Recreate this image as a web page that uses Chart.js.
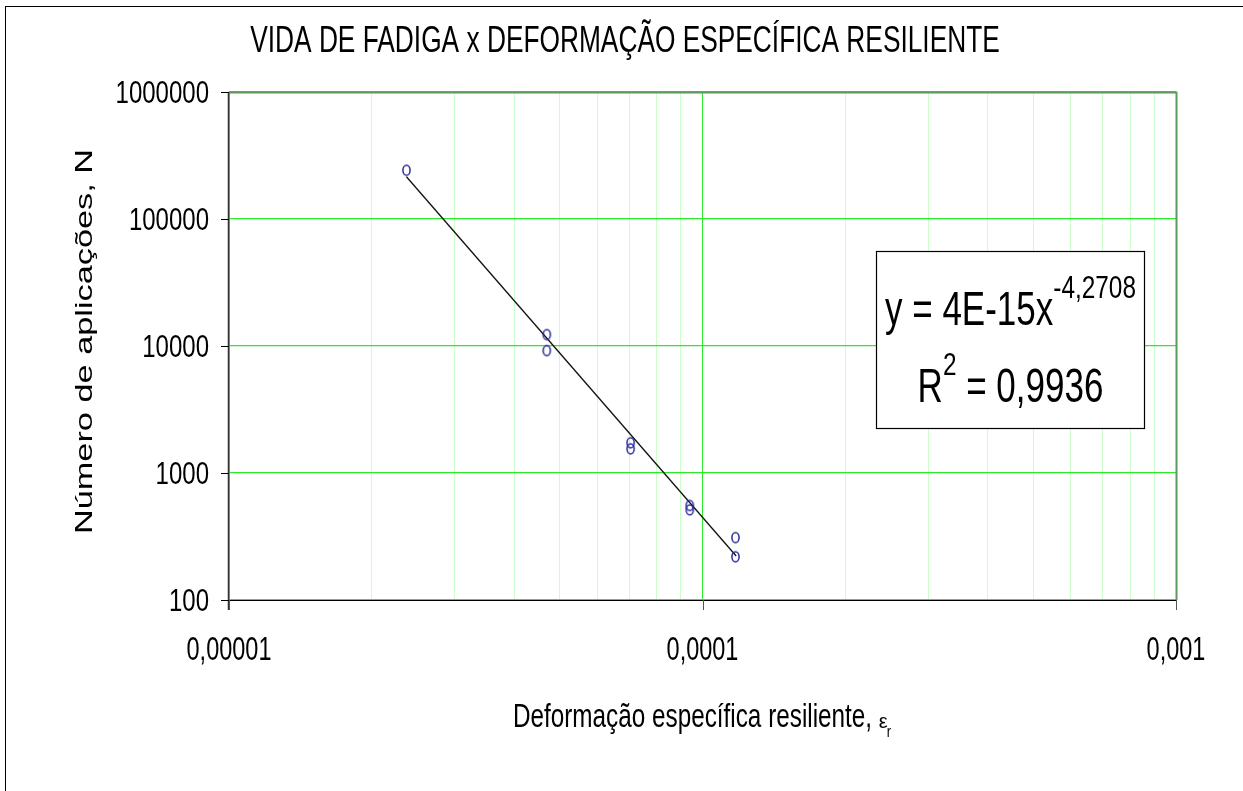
<!DOCTYPE html>
<html>
<head>
<meta charset="utf-8">
<script src="https://cdn.jsdelivr.net/npm/chart.js@4"></script>
<style>
  html, body { margin: 0; padding: 0; background: #ffffff; }
  canvas { display: block; }
</style>
</head>
<body>
<canvas id="c" width="1243" height="791"></canvas>
<script>
// ---- data ----
const strainX = [2.37e-5, 4.69e-5, 4.69e-5, 7.05e-5, 7.05e-5, 9.40e-5, 9.40e-5, 1.174e-4, 1.174e-4];
const cyclesN = [242000, 12300, 9200, 1730, 1550, 555, 513, 310, 219];
const trendX = [2.37e-5, 1.178e-4];
const trendY = [215000, 222];
const xGridValues = [1e-5, 2e-5, 3e-5, 4e-5, 5e-5, 6e-5, 7e-5, 8e-5, 9e-5,
                     1e-4, 2e-4, 3e-4, 4e-4, 5e-4, 6e-4, 7e-4, 8e-4, 9e-4, 1e-3];
const xLabelValues = [1e-5, 1e-4, 1e-3];
const xTickLabels = ['0,00001', '0,0001', '0,001'];
const yTickValues = [100, 1000, 10000, 100000, 1000000];
const yTickLabels = ['100', '1000', '10000', '100000', '1000000'];
const chartTitle = 'VIDA DE FADIGA x DEFORMAÇÃO ESPECÍFICA RESILIENTE';
const yTitle = 'Número de aplicações, N';
const xTitle = 'Deformação específica resiliente, ';
const eqCoef = '4E-15';
const eqExp = '-4,2708';
const r2Text = '0,9936';

const FONT = '"Liberation Sans", Arial, Helvetica, sans-serif';
const GREEN = '#2ee82e';
const LIGHT = '#ccffcc';

function isMajor(v) {
  if (!v) return false;
  const l = Math.log10(v);
  return Math.abs(l - Math.round(l)) < 1e-6;
}

// ellipse marker (the reference is stretched vertically)
const marker = document.createElement('canvas');
marker.width = 11; marker.height = 14;
(function () {
  const m = marker.getContext('2d');
  m.strokeStyle = '#28289a';
  m.lineWidth = 1.5;
  m.beginPath();
  m.ellipse(5.5, 7, 3.6, 5.0, 0, 0, Math.PI * 2);
  m.stroke();
})();

function sText(ctx, s, x, y, size, sy, align) {
  ctx.save();
  ctx.translate(x, y);
  ctx.scale(1, sy);
  ctx.font = size + 'px ' + FONT;
  ctx.textAlign = align || 'left';
  ctx.textBaseline = 'alphabetic';
  ctx.fillText(s, 0, 0);
  ctx.restore();
}
function widthOf(ctx, s, size) {
  ctx.save();
  ctx.font = size + 'px ' + FONT;
  const w = ctx.measureText(s).width;
  ctx.restore();
  return w;
}
function drawRuns(ctx, runs, cx, baseline) {
  const widths = runs.map(r => widthOf(ctx, r.t, r.size));
  const total = widths.reduce((a, b) => a + b, 0);
  let x = cx - total / 2;
  runs.forEach((r, i) => {
    sText(ctx, r.t, x, baseline + (r.dy || 0), r.size, r.sy, 'left');
    x += widths[i];
  });
}

const decor = {
  id: 'decor',
  afterDraw(chart) {
    const ctx = chart.ctx;
    const xs = chart.scales.x, ys = chart.scales.y;
    const a = chart.chartArea;
    ctx.save();
    ctx.fillStyle = '#000';

    // outer border (extends beyond the picture on right/bottom)
    ctx.strokeStyle = '#000';
    ctx.lineWidth = 1;
    ctx.strokeRect(5.5, 6.5, 1400, 1000);

    // plot frame top/right
    ctx.strokeStyle = '#5c995c';
    ctx.lineWidth = 2;
    ctx.beginPath();
    ctx.moveTo(a.left, a.top + 0.5);
    ctx.lineTo(a.right + 0.5, a.top + 0.5);
    ctx.lineTo(a.right + 0.5, a.bottom);
    ctx.stroke();

    // left axis
    ctx.strokeStyle = '#333333';
    ctx.lineWidth = 1.5;
    ctx.beginPath();
    ctx.moveTo(a.left - 0.5, a.top);
    ctx.lineTo(a.left - 0.5, a.bottom + 10);
    ctx.stroke();
    // y ticks
    ctx.strokeStyle = '#000';
    ctx.lineWidth = 1;
    yTickValues.forEach(v => {
      const py = Math.round(ys.getPixelForValue(v)) + 0.5;
      ctx.beginPath();
      ctx.moveTo(a.left - 8, py);
      ctx.lineTo(a.left, py);
      ctx.stroke();
    });
    // bottom axis
    ctx.strokeStyle = '#000';
    ctx.lineWidth = 1.2;
    ctx.beginPath();
    ctx.moveTo(a.left - 8, a.bottom + 0.5);
    ctx.lineTo(a.right + 1, a.bottom + 0.5);
    ctx.stroke();
    // x ticks
    ctx.strokeStyle = '#555';
    ctx.lineWidth = 1;
    xLabelValues.forEach(v => {
      const px = Math.round(xs.getPixelForValue(v)) + 0.5;
      ctx.beginPath();
      ctx.moveTo(px, a.bottom);
      ctx.lineTo(px, a.bottom + 10);
      ctx.stroke();
    });

    // tick labels
    ctx.fillStyle = '#000';
    yTickValues.forEach((v, i) => {
      const py = ys.getPixelForValue(v);
      sText(ctx, yTickLabels[i], 209, py + 11, 24, 1.34, 'right');
    });
    xLabelValues.forEach((v, i) => {
      const px = xs.getPixelForValue(v);
      sText(ctx, xTickLabels[i], px, 660, 23.5, 1.385, 'center');
    });

    // title
    sText(ctx, chartTitle, 625, 52, 26.3, 1.42, 'center');

    // x axis title with epsilon_r
    const tw = widthOf(ctx, xTitle, 24.3);
    const ew = widthOf(ctx, 'ε', 20);
    const rw = widthOf(ctx, 'r', 13);
    const cx = (a.left + a.right) / 2;
    let x0 = cx - (tw + ew + rw) / 2;
    sText(ctx, xTitle, x0, 726.7, 24.3, 1.34, 'left');
    sText(ctx, 'ε', x0 + tw, 728, 20, 1.0, 'left');
    sText(ctx, 'r', x0 + tw + ew - 1, 737, 13, 1.2, 'left');

    // y axis title rotated
    ctx.save();
    ctx.translate(91.7, 341.5);
    ctx.rotate(-Math.PI / 2);
    ctx.scale(1.4, 1);
    ctx.font = '24.5px ' + FONT;
    ctx.textAlign = 'center';
    ctx.textBaseline = 'alphabetic';
    ctx.fillText(yTitle, 0, 0);
    ctx.restore();

    // equation box
    ctx.fillStyle = '#fff';
    ctx.fillRect(876.5, 251.5, 268, 177);
    ctx.strokeStyle = '#000';
    ctx.lineWidth = 1.2;
    ctx.strokeRect(876.5, 251.5, 268, 177);
    ctx.fillStyle = '#000';
    drawRuns(ctx, [
      { t: 'y = ' + eqCoef + 'x', size: 35, sy: 1.4 },
      { t: eqExp, size: 24.4, sy: 1.3, dy: -26.7 }
    ], 1010.5, 325);
    drawRuns(ctx, [
      { t: 'R', size: 35, sy: 1.4 },
      { t: '2', size: 24.4, sy: 1.3, dy: -26.7 },
      { t: ' = ' + r2Text, size: 35, sy: 1.4 }
    ], 1010.5, 401.7);

    ctx.restore();
  }
};

const bgPlugin = {
  id: 'bg',
  beforeDraw(chart) {
    const ctx = chart.ctx;
    ctx.save();
    ctx.fillStyle = '#fff';
    ctx.fillRect(0, 0, chart.width, chart.height);
    ctx.restore();
  }
};

new Chart(document.getElementById('c'), {
  type: 'scatter',
  data: {
    datasets: [
      {
        label: 'trend',
        data: trendX.map((x, i) => ({ x: x, y: trendY[i] })),
        showLine: true,
        borderColor: '#111',
        borderWidth: 1.3,
        pointRadius: 0,
        fill: false,
        order: 2
      },
      {
        label: 'N',
        data: strainX.map((x, i) => ({ x: x, y: cyclesN[i] })),
        showLine: false,
        pointStyle: marker,
        pointRadius: 5,
        order: 1
      }
    ]
  },
  options: {
    responsive: false,
    animation: false,
    devicePixelRatio: 1,
    layout: { padding: { left: 229, right: 67, top: 92, bottom: 191 } },
    plugins: { legend: { display: false }, tooltip: { enabled: false }, title: { display: false } },
    scales: {
      x: {
        type: 'logarithmic',
        min: 1e-5,
        max: 1e-3,
        afterBuildTicks: s => { s.ticks = xGridValues.map(v => ({ value: v })); },
        afterFit: s => { s.height = 0; },
        ticks: { display: false },
        border: { display: false },
        grid: {
          drawTicks: false,
          lineWidth: 1,
          color: c => (c.tick && isMajor(c.tick.value)) ? GREEN : LIGHT
        }
      },
      y: {
        type: 'logarithmic',
        min: 100,
        max: 1000000,
        afterBuildTicks: s => { s.ticks = yTickValues.map(v => ({ value: v })); },
        afterFit: s => { s.width = 0; },
        ticks: { display: false },
        border: { display: false },
        grid: { drawTicks: false, lineWidth: 1.3, color: GREEN }
      }
    }
  },
  plugins: [bgPlugin, decor]
});
</script>
</body>
</html>
